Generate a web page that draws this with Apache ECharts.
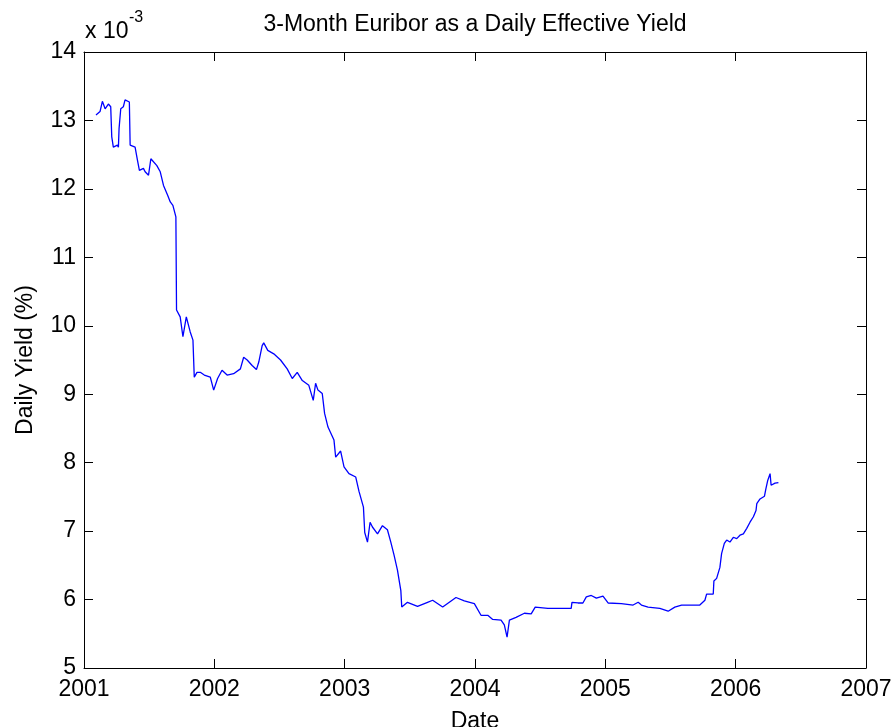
<!DOCTYPE html>
<html>
<head>
<meta charset="utf-8">
<script src="https://cdn.jsdelivr.net/npm/echarts@6/dist/echarts.min.js"></script>
<style>
html,body{margin:0;padding:0;background:#fff;}
#chart{width:896px;height:727px;}
</style>
</head>
<body>
<div id="chart"></div>
<script>
// Dates as decimal years
var dates = [
2001.092,2001.123,2001.141,2001.162,2001.187,2001.205,2001.213,2001.225,2001.256,2001.264,
2001.269,2001.282,2001.302,2001.315,2001.348,2001.354,2001.392,2001.410,2001.425,2001.456,
2001.469,2001.495,2001.513,2001.559,2001.585,2001.610,2001.641,2001.662,2001.682,2001.705,
2001.710,2001.738,2001.759,2001.785,2001.815,2001.836,2001.846,2001.867,2001.892,2001.923,
2001.969,2001.995,2002.025,2002.059,2002.098,2002.148,2002.200,2002.225,2002.252,2002.290,
2002.323,2002.341,2002.367,2002.379,2002.410,2002.456,2002.508,2002.559,2002.598,2002.636,
2002.675,2002.725,2002.759,2002.777,2002.795,2002.828,2002.846,2002.872,2002.918,2002.931,
2002.969,2002.995,2003.033,2003.085,2003.110,2003.144,2003.154,2003.175,2003.195,2003.213,
2003.252,2003.290,2003.328,2003.354,2003.379,2003.405,2003.431,2003.438,2003.482,2003.559,
2003.636,2003.675,2003.752,2003.854,2003.918,2003.995,2004.046,2004.098,2004.136,2004.200,
2004.225,2004.246,2004.264,2004.315,2004.379,2004.431,2004.462,2004.559,2004.738,2004.744,
2004.790,2004.828,2004.854,2004.892,2004.931,2004.982,2005.021,2005.123,2005.136,2005.213,
2005.252,2005.277,2005.328,2005.418,2005.482,2005.533,2005.585,2005.725,2005.764,2005.777,
2005.828,2005.833,2005.854,2005.879,2005.892,2005.913,2005.931,2005.956,2005.982,2006.008,
2006.033,2006.059,2006.085,2006.110,2006.136,2006.156,2006.162,2006.187,2006.221,2006.231,
2006.246,2006.264,2006.272,2006.302,2006.328
];
// Daily yield, in units of 1e-3
var dailyYield = [
13.08,13.13,13.28,13.17,13.24,13.20,12.76,12.61,12.64,12.61,
12.88,13.17,13.20,13.30,13.27,12.64,12.61,12.42,12.27,12.30,
12.25,12.20,12.44,12.34,12.25,12.05,11.91,11.81,11.76,11.59,
10.23,10.13,9.84,10.13,9.91,9.79,9.25,9.32,9.32,9.28,
9.25,9.06,9.23,9.35,9.28,9.30,9.37,9.54,9.50,9.42,
9.36,9.47,9.71,9.75,9.64,9.59,9.50,9.37,9.23,9.32,
9.20,9.13,8.91,9.16,9.06,9.01,8.72,8.52,8.33,8.08,
8.17,7.94,7.84,7.79,7.58,7.35,6.98,6.84,7.13,7.06,
6.96,7.08,7.02,6.84,6.65,6.43,6.13,5.89,5.96,5.90,
5.96,5.99,5.89,6.03,5.98,5.94,5.77,5.77,5.71,5.70,
5.63,5.45,5.70,5.74,5.80,5.79,5.89,5.87,5.87,5.96,
5.95,5.95,6.04,6.06,6.02,6.05,5.95,5.94,5.92,5.92,
5.96,5.92,5.89,5.87,5.83,5.89,5.92,5.92,5.99,6.08,
6.08,6.27,6.31,6.47,6.67,6.82,6.87,6.84,6.91,6.89,
6.94,6.96,7.04,7.13,7.21,7.30,7.40,7.47,7.51,7.61,
7.74,7.84,7.67,7.70,7.71
];
var xTicks = [2001, 2007, 1];
var yTicks = [5, 14, 1];
var titleText = '3-Month Euribor as a Daily Effective Yield';
var xName = 'Date';
var yName = 'Daily Yield (%)';

var FONT = '"Liberation Sans", Arial, sans-serif';
var FS = 23;
var data = dates.map(function (d, i) { return [d, dailyYield[i]]; });

var tickStyle = { inside: true, length: 9, lineStyle: { color: '#000', width: 1 } };
var lineStyleAxis = { show: true, onZero: false, lineStyle: { color: '#000', width: 1 } };

var chart = echarts.init(document.getElementById('chart'), null, { renderer: 'canvas' });
chart.setOption({
  animation: false,
  backgroundColor: '#fff',
  title: {
    text: titleText,
    left: 470, top: 8, textAlign: 'center',
    textStyle: { fontFamily: FONT, fontSize: FS, fontWeight: 'normal', color: '#000' }
  },
  grid: { left: 84, right: 30, top: 52, bottom: 59, containLabel: false, outerBoundsMode: 'none' },
  xAxis: [{
    type: 'value', min: xTicks[0], max: xTicks[1], interval: xTicks[2], position: 'bottom',
    axisLine: lineStyleAxis, axisTick: tickStyle, splitLine: { show: false },
    axisLabel: { fontFamily: FONT, fontSize: FS, color: '#000', margin: 10, formatter: function (v) { return String(v); } },
    name: xName, nameLocation: 'middle', nameGap: 42,
    nameTextStyle: { fontFamily: FONT, fontSize: FS, color: '#000' }
  }, {
    type: 'value', min: xTicks[0], max: xTicks[1], interval: xTicks[2], position: 'top',
    axisLine: lineStyleAxis, axisTick: tickStyle, splitLine: { show: false },
    axisLabel: { show: false }
  }],
  yAxis: [{
    type: 'value', min: yTicks[0], max: yTicks[1], interval: yTicks[2], position: 'left',
    axisLine: lineStyleAxis, axisTick: tickStyle, splitLine: { show: false },
    axisLabel: { fontFamily: FONT, fontSize: FS, color: '#000', margin: 8 },
    name: yName, nameLocation: 'middle', nameGap: 47, nameRotate: 90,
    nameTextStyle: { fontFamily: FONT, fontSize: FS, color: '#000' }
  }, {
    type: 'value', min: yTicks[0], max: yTicks[1], interval: yTicks[2], position: 'right',
    axisLine: lineStyleAxis, axisTick: tickStyle, splitLine: { show: false },
    axisLabel: { show: false }
  }],
  graphic: [
    { type: 'text', left: 85, top: 20, style: { text: 'x 10', fontFamily: FONT, fontSize: FS, fill: '#000' } },
    { type: 'text', left: 129, top: 10, style: { text: '-3', fontFamily: FONT, fontSize: 16, fill: '#000' } }
  ],
  series: [{
    type: 'line', data: data, xAxisIndex: 0, yAxisIndex: 0,
    showSymbol: false, symbol: 'none',
    lineStyle: { color: '#0000ff', width: 1.3 },
    itemStyle: { color: '#0000ff' }
  }]
});
</script>
</body>
</html>
